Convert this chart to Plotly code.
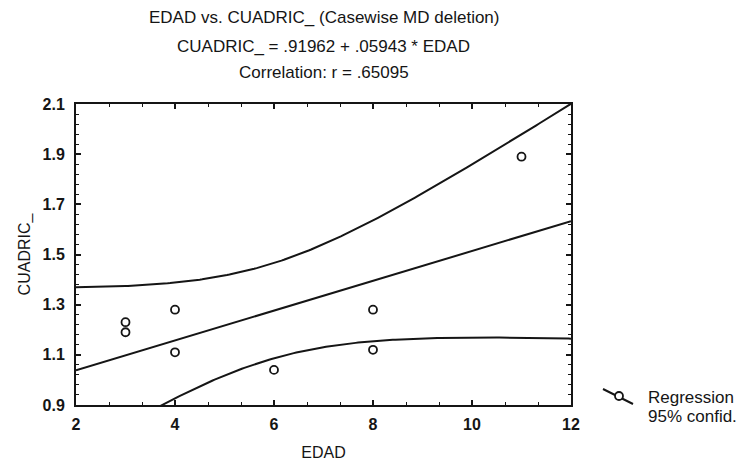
import numpy as np
import plotly.graph_objects as go

# ---- data ----
edad = [3, 3, 4, 4, 6, 8, 8, 11]
cuadric = [1.23, 1.19, 1.28, 1.11, 1.04, 1.28, 1.12, 1.89]
intercept = 0.91962
slope = 0.05943
t_crit = 2.447  # t(0.975, df=6)
x_ticks = [2, 4, 6, 8, 10, 12]
y_ticks = [0.9, 1.1, 1.3, 1.5, 1.7, 1.9, 2.1]
title_lines = ["EDAD vs. CUADRIC_ (Casewise MD deletion)",
               "CUADRIC_ = .91962 + .05943 * EDAD",
               "Correlation: r = .65095"]

x = np.array(edad, float)
y = np.array(cuadric, float)
n = len(x)
xm = x.mean()
sxx = ((x - xm) ** 2).sum()
resid = y - (intercept + slope * x)
s = np.sqrt((resid ** 2).sum() / (n - 2))

xs = np.linspace(2, 12, 201)
yhat = intercept + slope * xs
hw = t_crit * s * np.sqrt(1 / n + (xs - xm) ** 2 / sxx)

ink = "#151515"
line = dict(color=ink, width=2)
fig = go.Figure()
fig.add_trace(go.Scatter(x=xs, y=yhat, mode="lines", line=line, showlegend=False))
fig.add_trace(go.Scatter(x=xs, y=yhat + hw, mode="lines", line=line, showlegend=False))
fig.add_trace(go.Scatter(x=xs, y=yhat - hw, mode="lines", line=line, showlegend=False))
fig.add_trace(go.Scatter(x=edad, y=cuadric, mode="markers", showlegend=False,
                         marker=dict(symbol="circle-open", size=8, color=ink,
                                     line=dict(width=1.8))))

L, R, T, B = 76, 171, 104, 60
W, H = 742, 465
pw, ph = W - L - R, H - T - B

def px(xp):
    return (xp - L) / pw

def py(yp):
    return (H - B - yp) / ph

fam = "Liberation Sans, Arial, sans-serif"
font = dict(family=fam, size=16, color=ink)
title_font = dict(family=fam, size=17, color=ink)
tfont = dict(family=fam, size=16, color=ink, weight="bold")
axis_common = dict(showline=True, linecolor=ink, linewidth=2, mirror="allticks",
                   ticks="inside", ticklen=5, tickwidth=1.5, tickcolor=ink,
                   showgrid=False, zeroline=False, tickfont=tfont, automargin=False)
fig.update_xaxes(range=[2, 12], tickvals=x_ticks, ticktext=[str(v) for v in x_ticks],
                 ticklabelstandoff=4,
                 minor=dict(dtick=2 / 3, tick0=2, ticks="inside", ticklen=3,
                            tickcolor=ink, tickwidth=1),
                 title=dict(text="EDAD", font=font, standoff=15), **axis_common)
fig.update_yaxes(range=[0.9, 2.1], tickvals=y_ticks, ticktext=[f"{v:.1f}" for v in y_ticks],
                 ticklabelstandoff=6,
                 minor=dict(dtick=0.04, tick0=0.9, ticks="inside", ticklen=3,
                            tickcolor=ink, tickwidth=1),
                 title=dict(text="CUADRIC_", font=font, standoff=8), **axis_common)

anns = []
for t, yy in zip(title_lines, [18, 46, 72]):
    anns.append(dict(text=t, x=0.5, y=py(yy), xref="paper", yref="paper",
                     showarrow=False, font=title_font, xanchor="center", yanchor="middle"))
anns.append(dict(text="Regression", x=px(646), y=py(397), xref="paper", yref="paper",
                 showarrow=False, font=title_font, xanchor="left", yanchor="middle"))
anns.append(dict(text="95% confid.", x=px(646), y=py(416), xref="paper", yref="paper",
                 showarrow=False, font=title_font, xanchor="left", yanchor="middle"))

shapes = [
    dict(type="line", xref="paper", yref="paper", x0=px(603), y0=py(389), x1=px(633), y1=py(404),
         line=dict(color=ink, width=2)),
    dict(type="circle", xref="paper", yref="paper", x0=px(615), y0=py(392), x1=px(623), y1=py(400),
         line=dict(color=ink, width=1.8), fillcolor="white"),
]

fig.update_layout(width=W, height=H, margin=dict(l=L, r=R, t=T, b=B, autoexpand=False),
                  plot_bgcolor="white", paper_bgcolor="white", font=font,
                  annotations=anns, shapes=shapes, showlegend=False)
fig.write_html("out.html")
